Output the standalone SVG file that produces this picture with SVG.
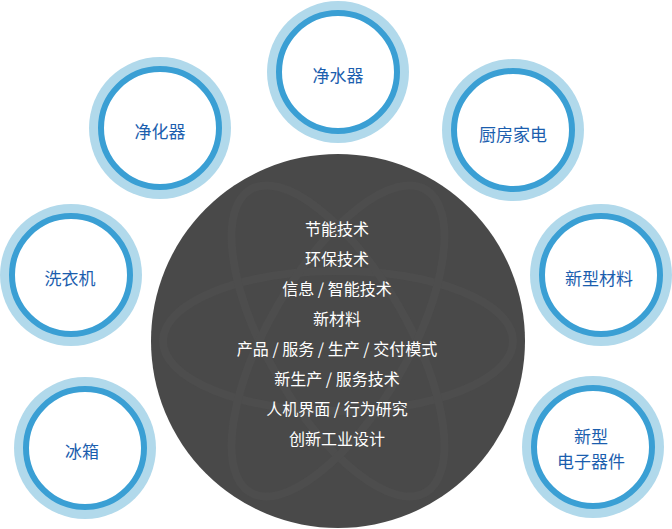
<svg xmlns="http://www.w3.org/2000/svg" width="672" height="529" viewBox="0 0 672 529">
  <style>
    .outer { fill: #b1d9eb; }
    .ring { fill: #ffffff; stroke: #3a9fd4; stroke-width: 6; }
    .lbl { font-family: "Noto Sans CJK SC", "Noto Sans", sans-serif; font-size: 17px; fill: #1b5eae; text-anchor: middle; dominant-baseline: central; }
    .ctext { font-family: "Noto Sans CJK SC", "Noto Sans", sans-serif; font-size: 16px; fill: #ffffff; text-anchor: middle; dominant-baseline: central; }
    .atom { fill: none; stroke: #4d4d4d; stroke-width: 8; }
  </style>
  <rect width="672" height="529" fill="#ffffff"/>
  <g id="center">
    <circle cx="338" cy="341" r="187" fill="#494949"/>
    <clipPath id="cc"><circle cx="338" cy="341" r="187"/></clipPath>
    <g clip-path="url(#cc)">
      <ellipse class="atom" cx="338" cy="341" rx="175" ry="70"/>
      <ellipse class="atom" cx="338" cy="341" rx="175" ry="70" transform="rotate(60 338 341)"/>
      <ellipse class="atom" cx="338" cy="341" rx="175" ry="70" transform="rotate(-60 338 341)"/>
    </g>
    <text class="ctext" x="337" y="228">节能技术</text>
    <text class="ctext" x="337" y="258">环保技术</text>
    <text class="ctext" x="337" y="288">信息 / 智能技术</text>
    <text class="ctext" x="337" y="318">新材料</text>
    <text class="ctext" x="337" y="348">产品 / 服务 / 生产 / 交付模式</text>
    <text class="ctext" x="337" y="378">新生产 / 服务技术</text>
    <text class="ctext" x="337" y="408">人机界面 / 行为研究</text>
    <text class="ctext" x="337" y="438">创新工业设计</text>
  </g>
  <g id="node-jingshuiqi">
    <circle class="outer" cx="338" cy="72" r="71"/>
    <circle class="ring" cx="338" cy="72" r="59"/>
    <text class="lbl" x="338" y="74">净水器</text>
  </g>
  <g id="node-jinghuaqi">
    <circle class="outer" cx="160" cy="128" r="71"/>
    <circle class="ring" cx="160" cy="128" r="59"/>
    <text class="lbl" x="160" y="130">净化器</text>
  </g>
  <g id="node-chufang">
    <circle class="outer" cx="513" cy="130" r="71"/>
    <circle class="ring" cx="513" cy="130" r="59"/>
    <text class="lbl" x="513" y="133">厨房家电</text>
  </g>
  <g id="node-xiyiji">
    <circle class="outer" cx="71" cy="275" r="71"/>
    <circle class="ring" cx="71" cy="275" r="59"/>
    <text class="lbl" x="70" y="277">洗衣机</text>
  </g>
  <g id="node-xinxingcailiao">
    <circle class="outer" cx="601" cy="275" r="71"/>
    <circle class="ring" cx="601" cy="275" r="59"/>
    <text class="lbl" x="599" y="277">新型材料</text>
  </g>
  <g id="node-bingxiang">
    <circle class="outer" cx="85" cy="448" r="71"/>
    <circle class="ring" cx="85" cy="448" r="59"/>
    <text class="lbl" x="82" y="450">冰箱</text>
  </g>
  <g id="node-dianziqijian">
    <circle class="outer" cx="593" cy="447" r="71"/>
    <circle class="ring" cx="593" cy="447" r="59"/>
    <text class="lbl" x="591" y="435">新型</text>
    <text class="lbl" x="591" y="460">电子器件</text>
  </g>
  <g id="connectors"></g>
</svg>
